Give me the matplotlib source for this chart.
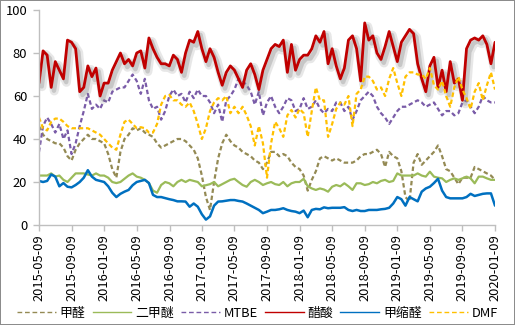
import matplotlib
matplotlib.use("Agg")
import matplotlib.pyplot as plt
import matplotlib.patheffects as pe
from matplotlib.lines import Line2D
import pandas as pd

plt.rcParams['font.family'] = ['Noto Sans CJK SC', 'DejaVu Sans']
plt.rcParams['lines.scale_dashes'] = False

# semi-monthly observations, 2015-05-09 .. 2020-01-09
start_date = "2015-05-09"
end_date = "2020-01-09"
n_obs = 113

tick_labels = ["2015-05-09", "2015-09-09", "2016-01-09", "2016-05-09", "2016-09-09",
               "2017-01-09", "2017-05-09", "2017-09-09", "2018-01-09", "2018-05-09",
               "2018-09-09", "2019-01-09", "2019-05-09", "2019-09-09", "2020-01-09"]

series_names = ["甲醛", "二甲醚", "MTBE", "醋酸", "甲缩醛", "DMF"]

formaldehyde = [46, 42, 40, 39, 38, 38, 36, 32, 30, 35, 38, 40, 42, 40, 40, 39, 38, 33, 26, 22,
                34, 40, 42, 45, 44, 45, 43, 42, 41, 38, 36, 37, 38, 39, 40, 40, 39, 37, 35, 31,
                23, 13, 7, 20, 31, 38, 42, 39, 37, 36, 34, 33, 32, 30, 29, 26, 29, 34, 34, 32,
                33, 32, 29, 27, 26, 23, 16, 21, 25, 31, 32, 31, 30, 31, 30, 29, 29, 29, 30, 32,
                33, 33, 34, 35, 33, 27, 34, 32, 31, 25, 13, 11, 29, 33, 28, 30, 32, 34, 37, 32,
                26, 25, 22, 19, 22, 22, 22, 27, 26, 25, 24, 23, 21]

dme = [23, 23, 23, 24, 22.5, 23, 21, 20, 22, 24, 24, 24, 23.5, 23, 24, 23, 23, 22, 20, 19.5,
       20, 21.5, 23, 24, 22.5, 22, 21, 19.5, 16, 15, 18.6, 20, 19.4, 18, 20, 21, 20, 21, 20.5, 20,
       18, 18.5, 19, 20, 18, 19, 20, 21, 21.5, 20, 18.6, 17.8, 20, 21, 20, 18.6, 19.4, 20, 19, 18.6,
       20, 18, 19.4, 20, 20, 21.5, 18, 17, 16.3, 17, 16.5, 15.5, 17.8, 18.6, 18, 19.4, 18, 16.3, 19.4, 19.4,
       18.6, 19, 20, 19.4, 20.5, 21, 20, 20.5, 24, 23, 23, 23, 23, 24, 23, 22.5, 24.8, 22.5, 22, 21.7,
       20, 21, 21.7, 21, 21.7, 22.5, 21.7, 19.4, 22.5, 22.5, 21.7, 21, 21]

mtbe = [34, 46, 50, 47, 43, 47, 40, 44, 33, 38, 46, 53, 61, 54, 56, 54, 58, 57, 62, 63,
        64, 64, 67, 70, 67, 61, 68, 58, 54, 55, 49, 53, 60, 63, 60, 61, 57, 62, 59, 63,
        60, 60, 57, 52, 56, 48, 58, 60, 63, 68, 67, 65, 62, 56, 62, 51, 57, 60, 55, 52,
        55, 59, 58, 53, 54, 59, 54, 55, 58, 54, 52, 54, 53, 57, 57, 53, 55, 49, 53, 58,
        60, 62, 60, 55, 52, 50, 47, 50, 53, 55, 55, 56, 57, 58, 57, 55, 56, 57, 54, 51,
        53, 53, 51, 52, 57, 58, 55, 52, 55, 60, 58, 57, 57]

acetic_acid = [66, 81, 79, 64, 76, 72, 68, 86, 85, 82, 62, 64, 74, 69, 73, 60, 66, 66, 72, 76,
               80, 75, 77, 74, 80, 81, 73, 87, 82, 78, 75, 75, 74, 79, 77, 71, 80, 86, 85, 90,
               82, 76, 82, 78, 71, 65, 71, 74, 72, 68, 64, 72, 75, 70, 63, 72, 77, 82, 84, 83,
               86, 71, 84, 72, 77, 79, 79, 82, 88, 85, 90, 75, 82, 74, 68, 73, 86, 88, 82, 67,
               94, 86, 88, 80, 77, 83, 90, 83, 76, 85, 88, 91, 89, 75, 68, 62, 74, 78, 64, 72,
               62, 76, 66, 68, 58, 82, 86, 87, 86, 88, 84, 75, 85]

methylal = [20.5, 20, 20.5, 23.5, 22.5, 18, 19.5, 17.8, 17.5, 18.6, 20, 22, 25.5, 22.5, 21, 20.5, 20, 18, 15, 13,
            14.5, 15.5, 16.3, 18.5, 20, 20.5, 21, 19.5, 14, 13, 13, 12.5, 12, 11.6, 11, 11, 10.9, 8.5, 10, 8.5,
            5, 2.5, 4, 9, 10.9, 11, 11.3, 11.6, 11.6, 11.2, 10.9, 10, 9, 8, 7, 5.5, 6.2, 7, 7, 7.3,
            7.8, 7, 6.5, 6.2, 5.5, 6.7, 3.6, 7, 7.5, 7.3, 8.2, 7.8, 8, 8, 8, 8.3, 7, 6.5, 7, 6.5,
            6.5, 7, 7, 7, 7.3, 7.5, 8, 10, 13, 12, 9, 13, 12, 11, 15.5, 17, 17.8, 19.5, 21.5, 16,
            13, 12.4, 12.4, 12.4, 12.4, 13, 14.5, 13.5, 14, 14.5, 14.7, 14.7, 9]

dmf = [50, 45, 44, 48, 49.5, 49.5, 48, 46, 45, 45, 45, 45, 45, 44, 43, 42, 40, 38, 36, 35,
       42, 48, 49, 47, 45, 45.5, 45, 43, 43, 47, 56, 60, 60.5, 58, 58, 56, 55, 57, 53, 47,
       40, 45, 53, 57, 59, 58, 60, 52, 55, 52, 55, 51, 46, 37, 46, 38, 22, 38, 48, 45,
       41, 51, 53.5, 50, 54, 52, 41, 53, 64, 58, 58, 41, 47, 54, 57, 56, 60, 46, 61, 63,
       69, 69, 67, 63, 64, 60, 68, 73, 66, 60, 69, 71, 71, 70, 70, 68, 73, 65, 63, 67,
       60, 55, 64, 69, 63, 59, 54, 62, 66, 58, 65, 71, 63]

colors = ["#948A54", "#9BBB59", "#7A5CA8", "#C00000", "#0070C0", "#FFC000"]
dashed = [True, False, True, False, False, True]
widths = [1.6, 1.6, 1.6, 2.0, 1.8, 1.6]

dates = pd.date_range(start_date, end_date, periods=n_obs)
values = [formaldehyde, dme, mtbe, acetic_acid, methylal, dmf]

fig = plt.figure(figsize=(5.15, 3.25), dpi=100, linewidth=1.2, edgecolor="#8C8C8C")
ax = fig.add_axes([0.0757, 0.3077, 0.8855, 0.6615])

for name, vals, col, dsh, lw in zip(series_names, values, colors, dashed, widths):
    kw = dict(color=col, lw=lw, solid_joinstyle="round", solid_capstyle="round")
    if dsh:
        kw.update(linestyle=(0, (3.2, 2.0)), dash_capstyle="butt")
    line, = ax.plot(dates, vals, **kw)
    if name == "醋酸":
        line.set_path_effects([
            pe.SimpleLineShadow(offset=(2.2, -2.6), shadow_color="#7F7F7F", alpha=0.18, linewidth=lw * 3.2),
            pe.SimpleLineShadow(offset=(2.0, -2.4), shadow_color="#7F7F7F", alpha=0.30, linewidth=lw * 1.6),
            pe.Normal(),
        ])

ax.set_ylim(0, 100)
ax.set_yticks([0, 20, 40, 60, 80, 100])
ax.set_xlim(dates[0], dates[-1])
tick_pos = pd.to_datetime(tick_labels)
ax.set_xticks(tick_pos)
ax.set_xticklabels(tick_labels, rotation=90)

for s in ["top", "right"]:
    ax.spines[s].set_visible(False)
for s in ["left", "bottom"]:
    ax.spines[s].set_color("#BFBFBF")
    ax.spines[s].set_linewidth(1.0)
ax.tick_params(axis="both", colors="#BFBFBF", length=4.5, width=1.0, direction="out",
               labelcolor="#000000", labelsize=9.3, pad=2)
ax.tick_params(axis="y", pad=4)

handles = []
for col, dsh in zip(colors, dashed):
    if dsh:
        handles.append(Line2D([], [], color=col, lw=1.0, linestyle=(0, (3.4, 2.0))))
    else:
        handles.append(Line2D([], [], color=col, lw=1.0))
fig.legend(handles, series_names, loc="center", bbox_to_anchor=(0.5, 0.036), ncol=6,
           frameon=False, fontsize=9.3, handlelength=3.0, handletextpad=0.3,
           columnspacing=0.55, borderpad=0, borderaxespad=0)

fig.savefig("out.png", dpi=100, edgecolor=fig.get_edgecolor())
